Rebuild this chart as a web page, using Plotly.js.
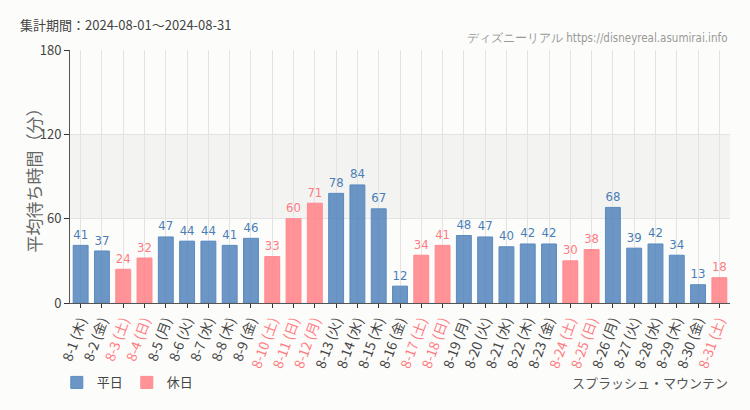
<!DOCTYPE html>
<html><head><meta charset="utf-8">
<script src="https://cdn.plot.ly/plotly-3.0.1.min.js"></script>
<style>html,body{margin:0;padding:0;background:#fcfdfb;}#chart{width:750px;height:410px;}</style>
</head><body><div id="chart"></div>
<script>
const dates = ["8-1","8-2","8-3","8-4","8-5","8-6","8-7","8-8","8-9","8-10","8-11","8-12","8-13","8-14","8-15","8-16","8-17","8-18","8-19","8-20","8-21","8-22","8-23","8-24","8-25","8-26","8-27","8-28","8-29","8-30","8-31"];
const weekdays = ["木","金","土","日","月","火","水","木","金","土","日","月","火","水","木","金","土","日","月","火","水","木","金","土","日","月","火","水","木","金","土"];
const isHoliday = [0,0,1,1,0,0,0,0,0,1,1,1,0,0,0,0,1,1,0,0,0,0,0,1,1,0,0,0,0,0,1];
const waitTimes = [41,37,24,32,47,44,44,41,46,33,60,71,78,84,67,12,34,41,48,47,40,42,42,30,38,68,39,42,34,13,18];

const blueFill = "rgba(74,127,185,0.82)", blueLine = "#5a8bbf", blueText = "#4a7db5";
const pinkFill = "rgba(255,128,133,0.85)", pinkLine = "#ff8a8f", pinkText = "#ff7b82";

const cats = dates;
const tickText = dates.map((d,i)=> isHoliday[i]
  ? `<span style="color:${pinkText}">${d} (${weekdays[i]})</span>`
  : `${d} (${weekdays[i]})`);

const wk = waitTimes.map((v,i)=> isHoliday[i] ? null : v);
const hd = waitTimes.map((v,i)=> isHoliday[i] ? v : null);
const numFont = {family:"Liberation Sans Narrow, DejaVu Sans Condensed, Roboto, sans-serif", size:15};

const traces = [
  {type:"bar", name:"平日", x:cats, y:wk, marker:{color:blueFill, line:{color:blueLine,width:1}},
   text:wk.map(v=>v==null?"":String(v)), textposition:"outside", cliponaxis:false,
   textfont:Object.assign({color:blueText}, numFont), hoverinfo:"x+y"},
  {type:"bar", name:"休日", x:cats, y:hd, marker:{color:pinkFill, line:{color:pinkLine,width:1}},
   text:hd.map(v=>v==null?"":String(v)), textposition:"outside", cliponaxis:false,
   textfont:Object.assign({color:pinkText}, numFont), hoverinfo:"x+y"}
];

const layout = {
  width:750, height:410,
  paper_bgcolor:"#fcfdfb", plot_bgcolor:"#fcfdfb",
  margin:{l:70, r:20, t:50, b:105},
  barmode:"overlay", bargap:0.3,
  font:{family:"Noto Sans CJK JP, Noto Sans, sans-serif", color:"#444", size:12},
  title:{text:"集計期間：2024-08-01～2024-08-31", x:20/750, xanchor:"left", xref:"container",
         y:1-25/410, yanchor:"middle", yref:"container", font:{size:13, color:"#444"}},
  xaxis:{type:"category", tickvals:cats, ticktext:tickText, tickangle:-70,
         showgrid:true, gridcolor:"#e3e3e3", showline:true, linecolor:"#555", linewidth:1,
         ticks:"outside", ticklen:4, tickcolor:"#333", tickfont:{size:13.5, color:"#444"},
         range:[-0.5,30.5], fixedrange:true},
  yaxis:{range:[0,180], tickvals:[0,60,120,180], showgrid:true, gridcolor:"#e3e3e3",
         showline:true, linecolor:"#555", linewidth:1, ticks:"outside", ticklen:5, tickcolor:"#333",
         tickfont:{size:13, color:"#444"}, zeroline:false},
  shapes:[{type:"rect", xref:"paper", x0:0, x1:1, yref:"y", y0:60, y1:120,
           fillcolor:"#f3f4f2", line:{width:0}, layer:"below"}],
  showlegend:true,
  legend:{orientation:"h", x:-0.02, xanchor:"left", y:-0.314, yanchor:"middle",
          font:{size:13, color:"#444"}, bgcolor:"rgba(0,0,0,0)", itemwidth:30,
          entrywidth:25, entrywidthmode:"pixels"},
  annotations:[
    {text:"平均待ち時間（分）", xref:"paper", x:0, xanchor:"center", xshift:-37,
     yref:"paper", y:0.5, yanchor:"middle", textangle:-90, showarrow:false,
     font:{size:17, color:"#666"}},
    {text:"ディズニーリアル https://disneyreal.asumirai.info", xref:"paper", x:1, xanchor:"right",
     yref:"paper", y:1, yanchor:"bottom", yshift:3, showarrow:false,
     font:{family:"Liberation Sans Narrow, DejaVu Sans Condensed, sans-serif", size:11.5, color:"#999"}},
    {text:"スプラッシュ・マウンテン", xref:"paper", x:1, xanchor:"right",
     yref:"paper", y:-0.314, yanchor:"middle", showarrow:false,
     font:{size:13, color:"#555"}}
  ]
};
Plotly.newPlot("chart", traces, layout, {displayModeBar:false, staticPlot:true});
</script></body></html>
